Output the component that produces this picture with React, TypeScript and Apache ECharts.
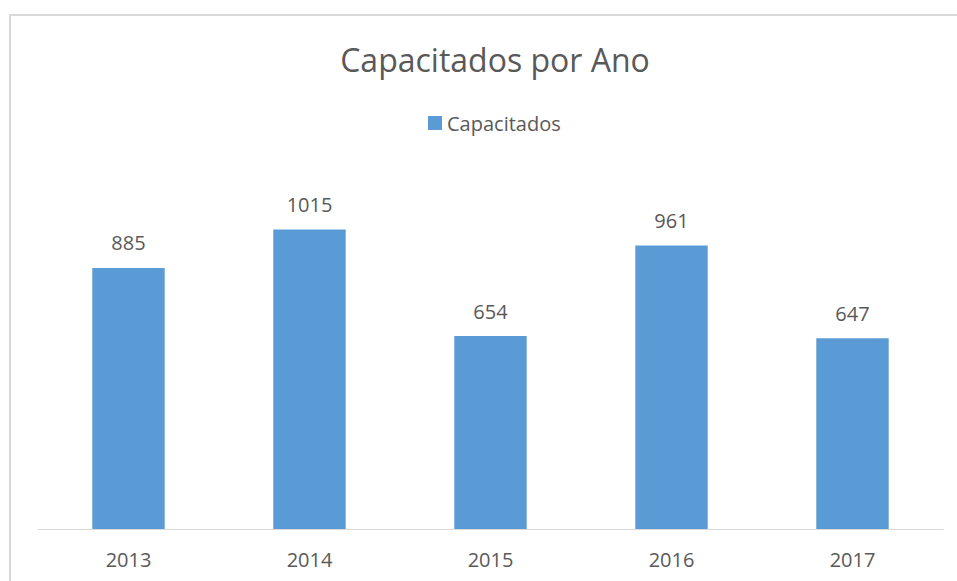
import React, { useEffect, useRef } from "react";
import * as echarts from "echarts";

const categories = ["2013", "2014", "2015", "2016", "2017"];
const capacitados = [885, 1015, 654, 961, 647];
const seriesName = "Capacitados";
const titleText = "Capacitados por Ano";

export default function App() {
  const ref = useRef<HTMLDivElement>(null);
  useEffect(() => {
    if (!ref.current) return;
    const chart = echarts.init(ref.current, undefined, { renderer: "svg" });
    const font = "'Open Sans', 'Noto Sans', sans-serif";
    chart.setOption({
      animation: false,
      backgroundColor: "#ffffff",
      title: {
        text: titleText,
        left: 490,
        textAlign: "center",
        top: 38,
        textStyle: { fontFamily: font, fontSize: 32, fontWeight: "normal", color: "#595959" },
      },
      legend: {
        data: [seriesName],
        left: 423,
        top: 108,
        itemWidth: 14,
        itemHeight: 14,
        itemGap: 6,
        icon: "rect",
        textStyle: { fontFamily: font, fontSize: 20, color: "#595959" },
      },
      graphic: [
        {
          type: "rect",
          shape: { x: 10, y: 15, width: 1000, height: 1000 },
          style: { fill: "none", stroke: "#d9d9d9", lineWidth: 2 },
          silent: true,
        },
      ],
      grid: { left: 38, right: 14, top: 175, bottom: 52, containLabel: false },
      xAxis: {
        type: "category",
        data: categories,
        axisLine: { lineStyle: { color: "#d9d9d9", width: 1 } },
        axisTick: { show: false },
        axisLabel: { fontFamily: font, fontSize: 20, color: "#595959", margin: 20 },
      },
      yAxis: {
        type: "value",
        min: 0,
        max: 1200,
        interval: 200,
        show: false,
        splitLine: { show: false },
      },
      series: [
        {
          name: seriesName,
          type: "bar",
          data: capacitados,
          barWidth: "40%",
          itemStyle: { color: "#5b9bd5" },
          label: {
            show: true,
            position: "top",
            distance: 15,
            fontFamily: font,
            fontSize: 20,
            color: "#595959",
          },
        },
      ],
    });
    return () => chart.dispose();
  }, []);
  return (
    <div
      ref={ref}
      style={{ position: "fixed", left: 0, top: 0, width: 957, height: 581 }}
    />
  );
}
